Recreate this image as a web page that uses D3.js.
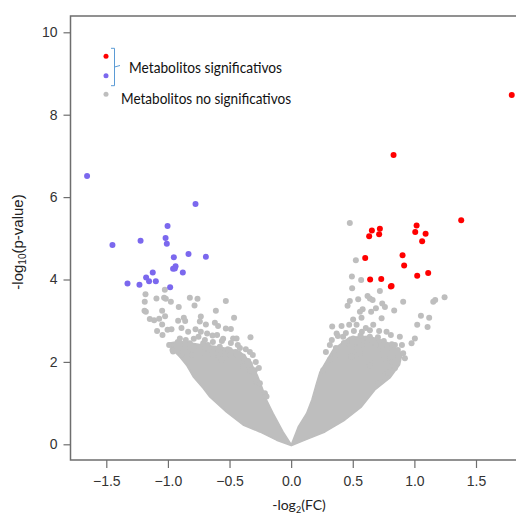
<!DOCTYPE html>
<meta charset="utf-8">
<script src="https://cdn.jsdelivr.net/npm/d3@7"></script>
<body style="margin:0;background:#fff">
<script>
// Window size
var W = 516, H = 517;

// Significant metabolites, down-regulated (purple): [log2FC, -log10 p]
var downSig = [[-1.656,6.51],[-0.776,5.83],[-1.003,5.30],[-1.019,5.01],[-1.009,4.87],[-1.450,4.84],
  [-1.222,4.94],[-0.833,4.62],[-0.692,4.55],[-0.952,4.54],[-0.938,4.32],[-0.958,4.26],[-0.944,4.27],
  [-0.879,4.17],[-1.123,4.17],[-1.177,4.05],[-1.153,3.96],[-1.098,3.96],[-1.328,3.90],[-1.231,3.87],
  [-0.982,3.81]];

// Significant metabolites, up-regulated (red)
var upSig = [[1.790,8.48],[0.831,7.02],[1.380,5.44],[0.655,5.19],[0.720,5.23],[0.633,5.05],[0.714,5.10],
  [1.018,5.31],[1.007,5.15],[1.091,5.11],[1.063,4.93],[0.601,4.52],[0.904,4.59],[0.917,4.34],
  [1.023,4.09],[1.112,4.16],[0.641,4.00],[0.731,4.01],[0.809,3.83],[0.815,3.84]];

// Non significant metabolites, the ones that can be told apart (grey)
var nonSig = [[-1.182,3.64],[-1.188,3.46],[-1.190,3.24],[-1.093,3.54],[-1.025,3.75],[-1.031,3.56],
  [-1.017,3.53],[-0.976,3.46],[-0.912,3.33],[-0.822,3.56],[-0.760,3.53],[-0.784,3.37],[-0.530,3.48],
  [-1.047,3.24],[-1.023,3.11],[-1.147,3.04],[-1.112,3.01],[-1.071,3.05],[-1.047,2.91],[-1.088,2.75],
  [-1.044,2.65],[-1.003,2.78],[-0.971,2.79],[-0.917,3.00],[-0.871,3.07],[-0.860,2.99],[-0.733,3.10],
  [-0.611,3.24],[-0.463,3.07],[-0.741,2.98],[-0.692,2.91],[-0.619,2.95],[-0.593,2.87],[-0.530,2.81],
  [-0.489,2.80],[-0.890,2.82],[-0.836,2.73],[-0.776,2.79],[-0.733,2.73],[-0.682,2.69],[-0.638,2.64],
  [-0.601,2.65],[-0.552,2.56],[-0.471,2.57],[-0.443,2.57],[-0.330,2.60],[-0.903,2.57],[-0.990,2.41],
  [-0.963,2.29],[-0.822,2.45],[-0.752,2.61],[-0.714,2.45],[-0.579,2.37],[-0.498,2.29],[-0.443,2.17],
  [-0.390,2.13],[-0.349,2.02],[-0.295,1.80],[-1.179,3.22],
  [-0.863,2.41],[-0.798,2.29],[-0.676,2.41],[-0.619,2.29],[-0.538,2.24],[-0.416,2.34],[-0.335,2.24],
  [-0.376,2.00],[-0.958,2.25],[-0.890,2.17],[-0.808,2.17],[-0.714,2.22],[-0.633,2.13],[-0.565,2.05],
  [-0.498,2.17],[-0.430,2.17],[-0.390,1.88],[-0.335,1.80],[-0.281,1.52],[-0.254,1.48],[-0.213,1.24],
  [-0.200,1.16],
  [-0.920,2.48],[-0.855,2.53],[-0.790,2.56],[-0.700,2.53],[-0.635,2.48],[-0.562,2.51],[-0.489,2.46],
  [-0.433,2.41],[-0.368,2.31],[-0.311,2.17],[-0.287,2.00],[-0.262,1.85],[-0.822,2.34],[-0.749,2.36],
  [-0.668,2.31],[-0.595,2.31],[-0.514,2.31],[-0.449,2.24],[-0.384,2.09],[-0.335,1.95],[-0.303,1.75],
  [-0.936,2.41],[-0.879,2.24],
  [0.476,5.37],[0.525,4.47],[0.493,4.07],[0.568,3.99],[0.495,3.79],[0.720,3.72],[0.909,3.46],
  [1.153,3.46],[1.169,3.50],[1.245,3.57],[0.476,3.48],[0.458,3.36],[0.544,3.52],[0.620,3.60],
  [0.639,3.54],[0.661,3.50],[0.688,3.30],[0.761,3.33],[0.836,3.25],[0.739,3.42],[0.580,3.28],
  [0.558,3.22],[0.503,3.03],[0.571,3.07],[0.649,3.22],[0.734,3.06],[1.053,3.12],[1.120,3.07],
  [1.023,2.90],[1.107,2.85],[0.333,2.86],[0.409,2.87],[0.471,2.90],[0.531,2.90],[0.606,2.82],
  [0.666,2.90],[0.714,2.75],[0.774,2.73],[0.809,2.65],[0.882,2.61],[1.004,2.57],[0.977,2.45],
  [0.369,2.69],[0.422,2.61],[0.503,2.57],[0.563,2.64],[0.639,2.61],[0.842,2.41],[0.909,2.21],
  [0.923,2.09],[0.260,1.80],[0.314,2.05],[0.355,2.17],[0.395,2.25],[0.490,2.13],[0.558,2.21],
  [0.639,1.92],[0.679,2.00],[0.761,2.09],[0.815,2.00],[0.869,2.13],[0.747,1.64],[0.706,1.48],
  [0.436,2.41],[0.533,2.34],[0.614,2.41],[0.720,2.48],[0.777,2.34],
  [0.330,2.53],[0.379,2.63],[0.444,2.70],[0.509,2.75],[0.574,2.73],[0.639,2.77],[0.704,2.60],
  [0.752,2.51],[0.817,2.43],[0.866,2.29],[0.899,2.41],[0.363,2.34],[0.428,2.46],[0.493,2.48],
  [0.558,2.41],[0.623,2.53],[0.688,2.41],[0.744,2.29],[0.801,2.19],[0.282,2.24],[0.314,2.41],
  [0.842,1.85],[0.785,1.75]];

// Outline of the solid mass of overlapping grey points
var coreLeft = [[0,-0.03],[-0.118,0.10],[-0.254,0.30],[-0.390,0.47],[-0.524,0.78],[-0.660,1.15],
  [-0.714,1.36],[-0.795,1.64],[-0.849,1.92],[-0.903,2.12],[-0.960,2.29],[-0.998,2.45],[-0.903,2.50],
  [-0.741,2.42],[-0.579,2.36],[-0.416,2.25],[-0.330,2.00],[-0.275,1.68],[-0.235,1.37],
  [-0.200,1.08],[-0.146,0.75],[-0.065,0.30],[0,0]];
var coreRight = [[0,-0.02],[0.057,0.42],[0.125,0.75],[0.168,1.08],[0.206,1.48],[0.233,1.75],
  [0.282,2.00],[0.341,2.30],[0.476,2.60],[0.639,2.62],[0.801,2.45],[0.900,2.20],
  [0.880,1.93],[0.801,1.61],[0.679,1.32],[0.571,0.91],[0.436,0.59],[0.274,0.30],
  [0.111,0.10],[0.003,-0.03]];

var xTicks = [-1.5,-1.0,-0.5,0,0.5,1.0,1.5];
var yTicks = [0,2,4,6,8,10];

var grey = "#bebebe", red = "#ff0000", purple = "#7b68ee";

var svg = d3.select("body").append("svg")
  .attr("width", W).attr("height", H)
  .style("display","block");

var x = d3.scaleLinear().domain([-1.5,1.5]).range([106.3,476]);
var y = d3.scaleLinear().domain([0,10]).range([444.3,32.3]);

var L = 70.5, T = 16, B = 460;

// mass of grey points
var line = d3.line().x(function(d){return x(d[0])}).y(function(d){return y(d[1])});
[coreLeft, coreRight].forEach(function(c){
  svg.append("path").attr("d", line(c) + "Z").attr("fill", grey)
    .attr("stroke", grey).attr("stroke-width", 1.5).attr("stroke-linejoin","round");
});

function dots(data, col){
  svg.append("g").selectAll("circle")
    .data(data).enter().append("circle")
    .attr("cx", function(d){return x(d[0])})
    .attr("cy", function(d){return y(d[1])})
    .attr("r", 3)
    .attr("fill", col);
}
dots(nonSig, grey);
dots(downSig, purple);
dots(upSig, red);

// frame
svg.append("path").attr("d", "M" + W + "," + T + "H" + L + "V" + B + "H" + W)
  .attr("stroke", "#6e6e6e").attr("stroke-width", 1.5).attr("fill","none");

// axes
var yAxis = svg.append("g").attr("transform", "translate(" + L + ",0)")
  .call(d3.axisLeft(y).tickValues(yTicks).tickSize(7).tickPadding(6).tickFormat(d3.format("d")));
var xAxis = svg.append("g").attr("transform", "translate(0," + B + ")")
  .call(d3.axisBottom(x).tickValues(xTicks).tickSize(8).tickPadding(8).tickFormat(d3.format(".1f")));
[yAxis, xAxis].forEach(function(a){
  a.select(".domain").remove();
  a.selectAll("line").attr("stroke", "#6e6e6e").attr("stroke-width", 1.2);
  a.selectAll("text").attr("font-family", "Liberation Sans, Arial, sans-serif").attr("font-size", 14).attr("fill", "#333");
});

// axis titles
var xt = svg.append("text").attr("x", 299).attr("y", 510).attr("text-anchor", "middle")
  .attr("font-family", "Lato, sans-serif").attr("font-size", 14).attr("fill", "#222");
xt.append("tspan").text("-log");
xt.append("tspan").text("2").attr("font-size", 9).attr("dy", 3);
xt.append("tspan").text("(FC)").attr("dy", -3);

var yt = svg.append("text").attr("transform", "translate(23,242) rotate(-90)").attr("text-anchor", "middle")
  .attr("font-family", "Liberation Sans, Arial, sans-serif").attr("font-size", 15).attr("fill", "#222");
yt.append("tspan").text("-log");
yt.append("tspan").text("10").attr("font-size", 10).attr("dy", 3);
yt.append("tspan").text("(p-value)").attr("dy", -3);

// legend
var lg = svg.append("g");
[[56.3, red], [75.7, purple], [94.3, grey]].forEach(function(d){
  lg.append("circle").attr("cx", 106).attr("cy", d[0]).attr("r", 2.5).attr("fill", d[1]);
});
lg.append("path").attr("d", "M111,48.3H114.5V85.7H111M114.5,67L120,65.5")
  .attr("fill", "none").attr("stroke", "#5b9bd5").attr("stroke-width", 1);
lg.append("text").attr("x", 129).attr("y", 73).text("Metabolitos significativos")
  .attr("font-family", "Lato, sans-serif").attr("font-size", 15).attr("fill", "#111")
  .attr("textLength", 153).attr("lengthAdjust", "spacingAndGlyphs");
lg.append("text").attr("x", 121).attr("y", 104).text("Metabolitos no significativos")
  .attr("font-family", "Lato, sans-serif").attr("font-size", 15).attr("fill", "#111")
  .attr("textLength", 170).attr("lengthAdjust", "spacingAndGlyphs");
</script>
</body>
